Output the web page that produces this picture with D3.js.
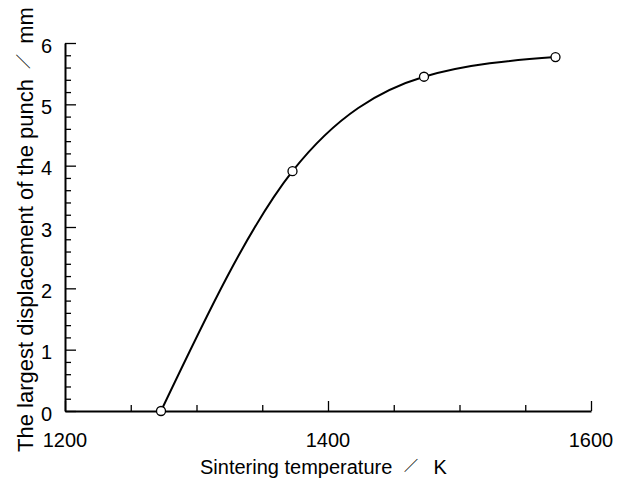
<!DOCTYPE html>
<html><head><meta charset="utf-8">
<script src="https://cdn.jsdelivr.net/npm/d3@7"></script>
<style>body{margin:0;background:#fff}svg{display:block}text{font-family:"Liberation Sans","Noto Sans CJK JP",sans-serif;fill:#000}</style>
</head><body><svg id="c" width="629" height="483"></svg>
<script>
const temperature = [1273, 1373, 1473, 1573];
const displacement = [0, 3.91, 5.45, 5.77];
const xTickLabels = [1200, 1400, 1600];
const yTickLabels = [0, 1, 2, 3, 4, 5, 6];
const xLabelParts = ["Sintering temperature ", "／", " K"];
const yLabelParts = ["The largest displacement of the punch ", "／", " mm"];

const svg = d3.select("#c");
const L = 65, R = 591, T = 43, B = 411;
const x = d3.scaleLinear().domain([1200, 1600]).range([L, R]);
const y = d3.scaleLinear().domain([0, 6]).range([B, T]);

const fs = 20;
const xMinor = d3.range(1200, 1601, 50);
const xAxis = d3.axisBottom(x).tickValues(xMinor).tickSizeInner(-6).tickSizeOuter(0).tickFormat("");
const gx = svg.append("g").attr("transform", `translate(0,${B})`).call(xAxis);
gx.selectAll(".tick line").attr("y2", d => xTickLabels.includes(d) ? -10 : -6).attr("stroke-width", 1.3);
gx.select(".domain").attr("stroke-width", 2);
xTickLabels.forEach(v => svg.append("text").attr("x", x(v)).attr("y", 447).attr("text-anchor", "middle").attr("font-size", fs).text(v));

const yMinor = d3.range(0, 31).map(i => i / 5);
const yAxis = d3.axisLeft(y).tickValues(yMinor).tickSizeInner(-6).tickSizeOuter(0).tickFormat("");
const gy = svg.append("g").attr("transform", `translate(${L},0)`).call(yAxis);
gy.selectAll(".tick line").attr("x2", (d, i) => i % 5 === 0 ? 11 : 6).attr("stroke-width", 1.3);
gy.select(".domain").attr("stroke-width", 2);
yTickLabels.forEach(v => svg.append("text").attr("x", 52).attr("y", y(v) + 9.5).attr("text-anchor", "end").attr("font-size", fs).text(v));

function label(sel, parts, slashSize, dx1, dx2, dy) {
  sel.append("tspan").text(parts[0]);
  sel.append("tspan").attr("dx", dx1).attr("dy", -dy).attr("font-size", slashSize)
    .attr("font-family", "Noto Sans CJK JP").attr("font-weight", 700).text(parts[1]);
  sel.append("tspan").attr("dx", dx2).attr("dy", dy).text(parts[2]);
}
const xl = svg.append("text").attr("x", 200).attr("y", 474).attr("font-size", fs);
label(xl, xLabelParts, 14, 6, 10, 3.7);
const yl = svg.append("text").attr("transform", `translate(33,452) rotate(-90)`).attr("font-size", 22);
label(yl, yLabelParts, 15, 4, 4, 4);

const pts = temperature.map((t, i) => [t, displacement[i]]);
const line = d3.line().x(d => x(d[0])).y(d => y(d[1])).curve(d3.curveMonotoneX);
svg.append("path").attr("d", line(pts)).attr("fill", "none").attr("stroke", "#000").attr("stroke-width", 2);
svg.selectAll("circle").data(pts).enter().append("circle")
  .attr("cx", d => x(d[0])).attr("cy", d => y(d[1])).attr("r", 4.5)
  .attr("fill", "#fff").attr("stroke", "#000").attr("stroke-width", 1.3);
</script></body></html>
